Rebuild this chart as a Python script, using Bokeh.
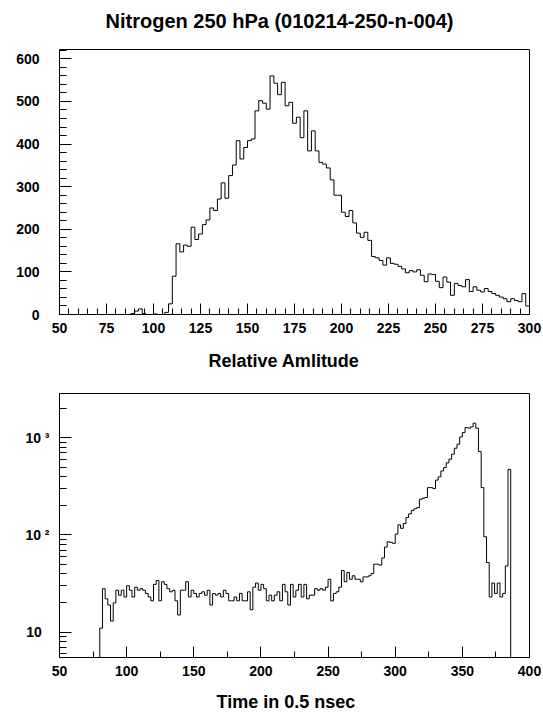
from bokeh.plotting import figure
from bokeh.models import Range1d, FixedTicker, Title
from bokeh.layouts import column
from bokeh.embed import file_html
from bokeh.resources import INLINE

# ---------------- data ----------------
amp_bin_width = 2
amp_bins = list(range(50, 300, 2))
amp_counts = [
    0, 0, 0, 0, 0, 0, 0, 0, 0, 0,
    0, 0, 0, 0, 0, 0, 0, 0, 0, 2,
    8, 13, 2, 0, 0, 1, 0, 0, 5, 25,
    90, 166, 147, 163, 160, 205, 176, 189, 211, 222,
    250, 244, 271, 309, 273, 326, 351, 408, 365, 392,
    408, 412, 478, 502, 496, 482, 560, 543, 516, 545,
    490, 498, 449, 463, 415, 478, 384, 431, 384, 357,
    353, 344, 316, 280, 280, 240, 230, 244, 215, 191,
    181, 193, 174, 136, 133, 127, 116, 133, 120, 118,
    113, 107, 98, 103, 100, 105, 92, 77, 95, 94,
    78, 63, 88, 76, 45, 73, 68, 65, 82, 54,
    65, 57, 53, 61, 54, 49, 45, 41, 37, 30,
    37, 33, 30, 49, 20,
]

time_bin_width = 2
time_bins = list(range(80, 386, 2))
time_counts = [
    11, 28, 22, 19, 13, 20, 27, 24, 27, 23,
    30, 27, 23, 29, 27, 28, 27, 25, 23, 21,
    31, 34, 21, 33, 31, 28, 26, 27, 21, 15,
    27, 27, 33, 23, 27, 25, 23, 25, 26, 24,
    27, 19, 25, 24, 25, 23, 27, 25, 21, 21,
    23, 21, 25, 21, 21, 26, 17, 29, 32, 27,
    31, 28, 21, 24, 21, 24, 26, 21, 31, 26,
    19, 31, 23, 27, 31, 23, 31, 22, 24, 24,
    28, 27, 28, 27, 29, 35, 21, 25, 26, 29,
    43, 33, 41, 35, 38, 35, 35, 33, 37, 37,
    38, 40, 50, 50, 49, 58, 75, 85, 84, 82,
    102, 127, 117, 131, 151, 165, 179, 186, 191, 233,
    239, 243, 307, 307, 300, 367, 396, 456, 493, 552,
    603, 678, 781, 859, 1021, 1132, 1274, 1256, 1294, 1413,
    1256, 721, 307, 96, 52, 23, 32, 25, 32, 23,
    25, 48, 474,
]

amp_ticks = list(range(50, 301, 25))
amp_minor = list(range(50, 301, 5))
cnt_ticks = list(range(0, 601, 100))
cnt_minor = list(range(0, 621, 20))
time_ticks = list(range(50, 401, 50))
time_minor = list(range(50, 401, 25))
log_ticks = [10, 100, 1000]
log_labels = {10: "10\u00a0\u00a0", 100: "10 \u00b2", 1000: "10 \u00b3"}
log_minor = [m * d for d in (1, 10, 100, 1000) for m in range(1, 10)]

TITLE = "Nitrogen 250 hPa (010214-250-n-004)"
XLAB1 = "Relative Amlitude"
XLAB2 = "Time in 0.5 nsec"

FONT = "Liberation Sans"


def step_xy(bins, counts, width, floor):
    xs, ys = [bins[0]], [floor]
    for lo, c in zip(bins, counts):
        v = c if c > floor else floor
        xs += [lo, lo + width]
        ys += [v, v]
    xs.append(bins[-1] + width)
    ys.append(floor)
    return xs, ys


def style(p, xt, xm, yt, ym, ystand):
    p.xgrid.visible = False
    p.ygrid.visible = False
    p.outline_line_color = "black"
    p.outline_line_width = 1
    p.background_fill_color = "white"
    p.border_fill_color = "white"
    for ax in (p.xaxis[0], p.yaxis[0]):
        ax.axis_line_color = "black"
        ax.major_tick_line_color = "black"
        ax.minor_tick_line_color = "black"
        ax.major_tick_out = 0
        ax.minor_tick_out = 0
        ax.major_label_text_font = FONT
        ax.major_label_text_font_style = "bold"
        ax.major_label_text_font_size = "14px"
        ax.major_label_text_color = "black"
    p.xaxis[0].ticker = FixedTicker(ticks=xt, minor_ticks=xm)
    p.yaxis[0].ticker = FixedTicker(ticks=yt, minor_ticks=ym)
    p.xaxis[0].major_tick_in = 11
    p.xaxis[0].minor_tick_in = 6
    p.yaxis[0].major_tick_in = 12
    p.yaxis[0].minor_tick_in = 7
    p.xaxis[0].major_label_standoff = 8
    p.yaxis[0].major_label_standoff = ystand


# ---------------- title strip ----------------
p0 = figure(width=543, height=41, output_backend="svg", toolbar_location=None,
            x_axis_location=None, y_axis_location=None,
            min_border_left=59, min_border_right=14, min_border_top=40, min_border_bottom=0)
p0.xgrid.visible = False
p0.ygrid.visible = False
p0.outline_line_color = None
p0.title.text = TITLE
p0.title.align = "left"
p0.title.offset = 46
p0.title.vertical_align = "top"
p0.title.text_font = FONT
p0.title.text_font_style = "bold"
p0.title.text_font_size = "20px"
p0.title.text_color = "black"
p0.title.standoff = 14

# ---------------- top panel ----------------
p1 = figure(width=543, height=342, x_range=Range1d(50, 300), y_range=Range1d(0, 622),
            output_backend="svg", toolbar_location=None,
            min_border_left=59, min_border_right=14, min_border_top=8, min_border_bottom=68)
style(p1, amp_ticks, amp_minor, cnt_ticks, cnt_minor, 20)
x1, y1 = step_xy(amp_bins, amp_counts, amp_bin_width, 0)
p1.line(x1, y1, line_color="black", line_width=1)
p1.add_layout(Title(text=XLAB1, align="left", offset=149, text_font=FONT, text_color="black",
                    text_font_style="bold", text_font_size="18px", standoff=26), "below")

# ---------------- bottom panel ----------------
p2 = figure(width=543, height=330, x_range=Range1d(50, 400), y_range=Range1d(5.48, 2857),
            y_axis_type="log", output_backend="svg", toolbar_location=None,
            min_border_left=59, min_border_right=14, min_border_top=10, min_border_bottom=56)
style(p2, time_ticks, time_minor, log_ticks, log_minor, 10)
p2.yaxis[0].major_label_overrides = log_labels
p2.xaxis[0].axis_label = "\u00a0"
p2.xaxis[0].axis_label_text_font_size = "5px"
p2.xaxis[0].axis_label_standoff = 0
x2, y2 = step_xy(time_bins, time_counts, time_bin_width, 1)
p2.line(x2, y2, line_color="black", line_width=1)
p2.add_layout(Title(text=XLAB2, align="left", offset=157, text_font=FONT, text_color="black",
                    text_font_style="bold", text_font_size="18px", standoff=4), "below")

layout = column(p0, p1, p2, spacing=0)
open("out.html", "w").write(file_html(layout, INLINE))
